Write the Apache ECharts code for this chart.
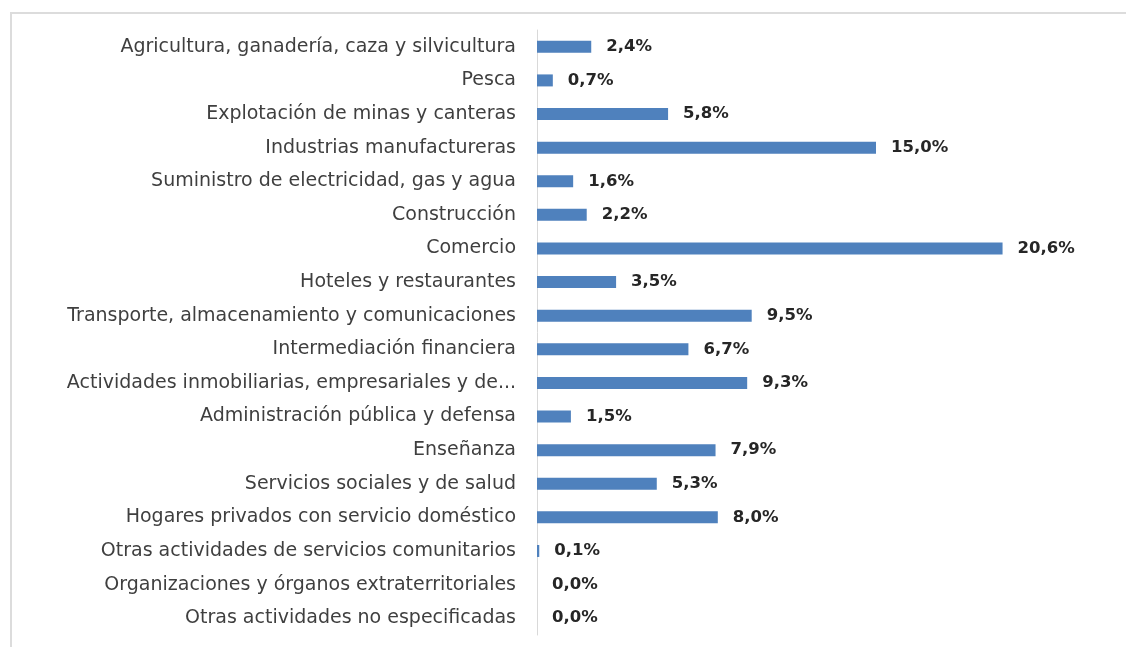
<!DOCTYPE html>
<html>
<head>
<meta charset="utf-8">
<script src="https://cdn.jsdelivr.net/npm/echarts@6/dist/echarts.min.js"></script>
<style>
  html, body { margin: 0; padding: 0; background: #fff; }
  #frame {
    position: absolute; left: 10px; top: 12px; width: 1130px; height: 650px;
    border-top: 2px solid #dcdcdc; border-left: 2px solid #dcdcdc;
  }
  #chart { position: absolute; left: 0; top: 0; width: 1126px; height: 647px; }
</style>
</head>
<body>
<div id="frame"></div>
<div id="chart"></div>
<script>
// sectores (de arriba a abajo)
var sectores = [
  'Agricultura, ganadería, caza y silvicultura',
  'Pesca',
  'Explotación de minas y canteras',
  'Industrias manufactureras',
  'Suministro de electricidad, gas y agua',
  'Construcción',
  'Comercio',
  'Hoteles y restaurantes',
  'Transporte, almacenamiento y comunicaciones',
  'Intermediación financiera',
  'Actividades inmobiliarias, empresariales y de...',
  'Administración pública y defensa',
  'Enseñanza',
  'Servicios sociales y de salud',
  'Hogares privados con servicio doméstico',
  'Otras actividades de servicios comunitarios',
  'Organizaciones y órganos extraterritoriales',
  'Otras actividades no especificadas'
];
// porcentaje
var porcentajes = [2.4, 0.7, 5.8, 15.0, 1.6, 2.2, 20.6, 3.5, 9.5, 6.7, 9.3, 1.5, 7.9, 5.3, 8.0, 0.1, 0.0, 0.0];

var chart = echarts.init(document.getElementById('chart'));
chart.setOption({
  animation: false,
  grid: { left: 537, right: 24, top: 30, bottom: 12, containLabel: false },
  xAxis: {
    type: 'value', min: 0, max: 25, show: false
  },
  yAxis: {
    type: 'category',
    inverse: true,
    data: sectores,
    axisLine: { show: true, lineStyle: { color: '#d9d9d9', width: 1 } },
    axisTick: { show: false },
    axisLabel: {
      margin: 21,
      fontFamily: '"DejaVu Sans", sans-serif',
      fontSize: 19,
      color: '#3f3f3f'
    }
  },
  series: [{
    type: 'bar',
    data: porcentajes,
    barWidth: 12,
    itemStyle: { color: '#4f81bd' },
    label: {
      show: true,
      position: 'right',
      distance: 15,
      fontFamily: '"DejaVu Sans", sans-serif',
      fontWeight: 'bold',
      fontSize: 16.5,
      color: '#262626',
      formatter: function (p) { return p.value.toFixed(1).replace('.', ',') + '%'; }
    }
  }]
});
</script>
</body>
</html>
